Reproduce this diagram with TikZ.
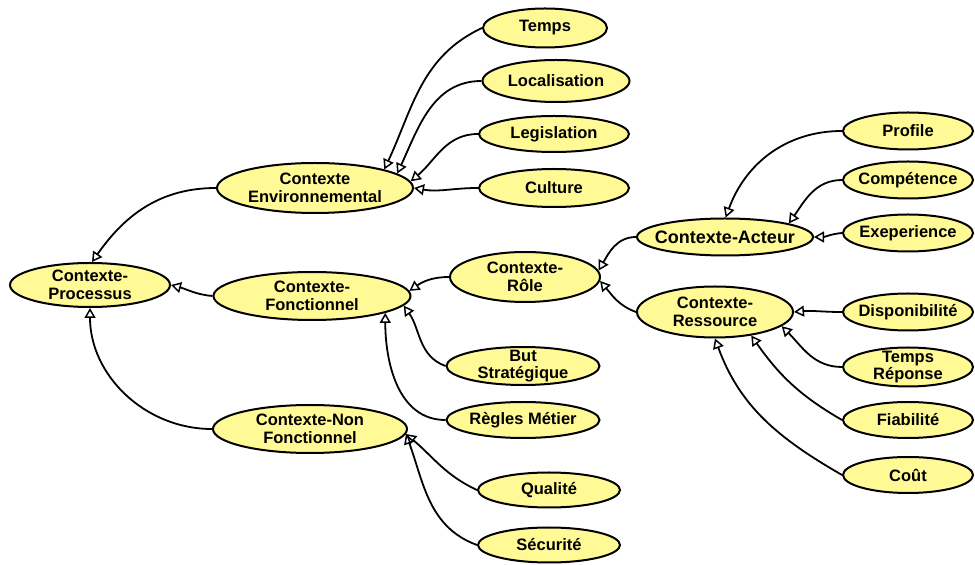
\documentclass[tikz,border=0pt]{standalone}
\usepackage{fontspec}
\setmainfont{Liberation Sans}
\usetikzlibrary{shapes.geometric,arrows.meta}
\definecolor{ellfill}{RGB}{255,250,150}
\begin{document}
\begin{tikzpicture}[x=1pt,y=1pt,
  ell/.style={ellipse,draw=black,line width=2pt,fill=ellfill,
    inner xsep=-8pt,inner ysep=-3.5pt,align=center,
    font=\fontsize{16.5}{17.5}\selectfont\bfseries},
  conn/.style={draw=black,line width=1.8pt,
    -{Triangle[open,length=10pt,width=11pt,line width=1.5pt]}}]
\useasboundingbox (0,0) rectangle (975,565);
% main nodes
\node[ell,minimum width=160,minimum height=44] (proc) at (90,280) {Contexte-\\Processus};
\node[ell,minimum width=196,minimum height=50] (env) at (315,377) {Contexte\\Environnemental};
\node[ell,minimum width=197,minimum height=48] (fonc) at (312,269) {Contexte-\\Fonctionnel};
\node[ell,minimum width=194,minimum height=48] (nonf) at (310,136) {Contexte-Non\\Fonctionnel};
% environment leaves
\node[ell,minimum width=124,minimum height=39] (temps) at (545,537) {Temps};
\node[ell,minimum width=147,minimum height=42] (loc) at (556,484) {Localisation};
\node[ell,minimum width=150,minimum height=36] (leg) at (554,431) {Legislation};
\node[ell,minimum width=150,minimum height=38] (cult) at (554,377) {Culture};
% functional
\node[ell,minimum width=150,minimum height=50] (role) at (525,288) {Contexte-\\Rôle};
\node[ell,minimum width=153,minimum height=38] (but) at (523,199) {But\\Stratégique};
\node[ell,minimum width=153,minimum height=36] (regles) at (523,145) {Règles Métier};
% non functional leaves
\node[ell,minimum width=142,minimum height=35] (qual) at (549,75) {Qualité};
\node[ell,minimum width=142,minimum height=35] (secu) at (549,20) {Sécurité};
% role children
\node[ell,minimum width=176,minimum height=37,font=\fontsize{18}{19}\selectfont\bfseries] (acteur) at (725,328) {Contexte-Acteur};
\node[ell,minimum width=156,minimum height=51] (ress) at (715,253) {Contexte-\\Ressource};
% actor leaves
\node[ell,minimum width=130,minimum height=37] (profile) at (908,434) {Profile};
\node[ell,minimum width=130,minimum height=37] (comp) at (908,385) {Compétence};
\node[ell,minimum width=130,minimum height=37] (exep) at (908,332) {Exeperience};
% resource leaves
\node[ell,minimum width=130,minimum height=37] (dispo) at (908,253) {Disponibilité};
\node[ell,minimum width=130,minimum height=39] (trep) at (908,198) {Temps\\Réponse};
\node[ell,minimum width=130,minimum height=36] (fiab) at (908,145) {Fiabilité};
\node[ell,minimum width=130,minimum height=36] (cout) at (908,90) {Coût};
% connectors
\draw[conn] (env.west) to[out=180,in=55] (proc.85);
\draw[conn] (fonc.west) to[out=175,in=-15] (proc.east);
\draw[conn] (nonf.west) to[out=180,in=-90] (proc.south);
\draw[conn] (temps.west) to[out=205,in=65] (env.15);
\draw[conn] (loc.west) to[out=180,in=65] (env.10);
\draw[conn] (leg.west) to[out=180,in=40] (env.4);
\draw[conn] (cult.west) to[out=180,in=-10] (env.0);
\draw[conn] (role.west) to[out=180,in=35] (fonc.3);
\draw[conn] (but.west) to[out=160,in=-55] (fonc.-6);
\draw[conn] (regles.west) to[out=180,in=-90] (fonc.-13);
\draw[conn] (qual.west) to[out=155,in=-40] (nonf.-3);
\draw[conn] (secu.west) to[out=160,in=-70] (nonf.-3);
\draw[conn] (acteur.west) to[out=180,in=60] (role.5);
\draw[conn] (ress.west) to[out=160,in=-50] (role.-3);
\draw[conn] (profile.west) to[out=180,in=70] (acteur.88);
\draw[conn] (comp.west) to[out=180,in=55] (acteur.12);
\draw[conn] (exep.west) to[out=185,in=0] (acteur.east);
\draw[conn] (dispo.west) to[out=180,in=5] (ress.east);
\draw[conn] (trep.west) to[out=180,in=-45] (ress.-12);
\draw[conn] (fiab.west) to[out=150,in=-55] (ress.-33);
\draw[conn] (cout.west) to[out=150,in=-70] (ress.south);
\end{tikzpicture}
\end{document}
